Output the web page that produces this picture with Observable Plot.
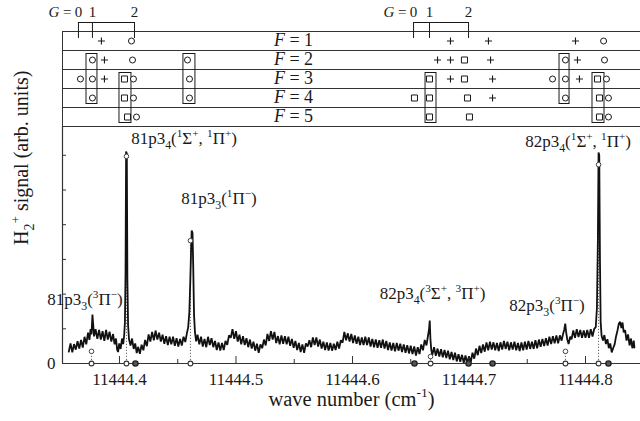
<!DOCTYPE html>
<html><head><meta charset="utf-8">
<script src="https://cdn.jsdelivr.net/npm/d3@7"></script>
<script src="https://cdn.jsdelivr.net/npm/@observablehq/plot@0.6"></script>
<style>
body{margin:0;background:#fff;}
#chart{width:640px;height:421px;position:relative;font-family:"Liberation Serif",serif;}
#chart svg{display:block;overflow:visible;}
</style></head><body><div id="chart"></div>
<script>
// ---------- data ----------
const xDomain = [11444.3511, 11444.8472];
const majorTicks = [11444.4, 11444.5, 11444.6, 11444.7, 11444.8];
const minorTicks = [11444.45, 11444.55, 11444.65, 11444.75];
const yTicks = [0, 1, 2, 3, 4, 5, 6];
const yLabeled = [0];
const yMax = 6.83;
const fRows = [1, 2, 3, 4, 5];
const fLabelWn = 11444.5494;

const gLabels = ["0", "1", "2"];
const gLeftWn = [11444.3648, 11444.3768, 11444.4129];
const gRightWn = [11444.6524, 11444.6661, 11444.6996];

const markerWn = [
  11444.3845, 11444.4103, 11444.6841, 11444.7167, 11444.7914, 11444.8155,
  11444.3768, 11444.3871, 11444.4112, 11444.4584, 11444.6730, 11444.6841, 11444.6961, 11444.7185, 11444.7828, 11444.7931, 11444.8163,
  11444.3665, 11444.3768, 11444.3871, 11444.4043, 11444.4120, 11444.4601, 11444.6661, 11444.6841, 11444.6961, 11444.7202, 11444.7717, 11444.7828, 11444.7948, 11444.8103, 11444.8180,
  11444.3768, 11444.4043, 11444.4120, 11444.4601, 11444.6532, 11444.6661, 11444.6987, 11444.7202, 11444.7828, 11444.8120, 11444.8197,
  11444.4069, 11444.4146, 11444.6661, 11444.7004, 11444.8120, 11444.8197
];
const markerF = [
  1,1,1,1,1,1,
  2,2,2,2,2,2,2,2,2,2,2,
  3,3,3,3,3,3,3,3,3,3,3,3,3,3,3,
  4,4,4,4,4,4,4,4,4,4,4,
  5,5,5,5,5,5
];
const markerType = [
  "plus","circle","plus","plus","plus","circle",
  "circle","plus","circle","circle","plus","plus","square","plus","circle","plus","circle",
  "circle","circle","plus","square","circle","circle","square","plus","square","plus","circle","circle","plus","square","circle",
  "circle","square","circle","circle","square","square","square","plus","circle","square","circle",
  "square","circle","square","square","square","circle"
];

const boxX1 = [11444.3717, 11444.4000, 11444.4549, 11444.6627, 11444.7777, 11444.8060];
const boxX2 = [11444.3811, 11444.4103, 11444.4652, 11444.6721, 11444.7863, 11444.8163];
const boxFTop = [2, 3, 2, 3, 2, 3];
const boxFBottom = [4, 5, 4, 5, 4, 5];

const calcOpenWn = [11444.3760, 11444.4060, 11444.4609, 11444.6670, 11444.7828, 11444.8112];
const calcOpenSig = [0.35, 5.97, 3.54, 0.20, 0.35, 5.73];
const calcBoldWn = [11444.4137, 11444.6532, 11444.6996, 11444.7202, 11444.8197];

const labelText = [
  "81p3_{4}(^{1}Σ^{+}, ^{1}Π^{+})",
  "81p3_{3}(^{1}Π^{−})",
  "81p3_{3}(^{3}Π^{−})",
  "82p3_{4}(^{3}Σ^{+}, ^{3}Π^{+})",
  "82p3_{3}(^{3}Π^{−})",
  "82p3_{4}(^{1}Σ^{+}, ^{1}Π^{+})"
];
const labelWn = [11444.4554, 11444.4854, 11444.3704, 11444.6687, 11444.7670, 11444.7936];
const labelSig = [6.48, 4.76, 1.84, 2.02, 1.67, 6.39];

const spectrum = [
[11444.3565,0.34],[11444.3580,0.58],[11444.3595,0.32],[11444.3610,0.56],[11444.3625,0.40],[11444.3640,0.64],
[11444.3655,0.43],[11444.3670,0.68],[11444.3685,0.46],[11444.3700,0.77],[11444.3715,0.55],[11444.3730,0.89],
[11444.3742,0.68],[11444.3752,0.99],[11444.3760,0.84],[11444.3768,1.41],[11444.3775,1.10],[11444.3782,0.78],
[11444.3795,0.99],[11444.3810,0.71],[11444.3825,0.97],[11444.3840,0.69],[11444.3855,0.93],[11444.3870,0.65],
[11444.3885,0.97],[11444.3900,0.69],[11444.3915,0.92],[11444.3930,0.63],[11444.3945,0.85],[11444.3958,0.55],
[11444.3970,0.72],[11444.3980,0.40],[11444.3988,0.33],[11444.3998,0.58],[11444.4010,0.42],[11444.4022,0.72],
[11444.4032,0.56],[11444.4040,0.80],[11444.4047,1.20],[11444.4052,2.60],[11444.4057,6.11],[11444.4063,6.05],
[11444.4068,2.40],[11444.4074,1.10],[11444.4082,0.70],[11444.4095,0.52],[11444.4108,0.72],[11444.4122,0.42],
[11444.4135,0.58],[11444.4148,0.30],[11444.4160,0.48],[11444.4175,0.28],[11444.4190,0.54],[11444.4205,0.38],
[11444.4220,0.68],[11444.4235,0.50],[11444.4250,0.84],[11444.4265,0.63],[11444.4280,0.91],[11444.4295,0.67],
[11444.4310,0.95],[11444.4325,0.69],[11444.4340,0.89],[11444.4355,0.63],[11444.4370,0.83],[11444.4385,0.57],
[11444.4400,0.79],[11444.4415,0.53],[11444.4430,0.77],[11444.4445,0.55],[11444.4460,0.77],[11444.4475,0.51],
[11444.4490,0.73],[11444.4505,0.49],[11444.4520,0.71],[11444.4535,0.52],[11444.4550,0.77],[11444.4565,0.62],
[11444.4578,0.86],[11444.4590,1.05],[11444.4600,1.50],[11444.4608,2.40],[11444.4615,3.30],[11444.4620,3.83],
[11444.4627,3.76],[11444.4633,2.80],[11444.4640,1.40],[11444.4648,0.90],[11444.4658,0.64],[11444.4670,0.83],
[11444.4685,0.55],[11444.4700,0.77],[11444.4715,0.49],[11444.4730,0.71],[11444.4745,0.47],[11444.4760,0.77],
[11444.4775,0.53],[11444.4790,0.73],[11444.4805,0.47],[11444.4820,0.65],[11444.4835,0.39],[11444.4850,0.61],
[11444.4865,0.37],[11444.4880,0.59],[11444.4895,0.39],[11444.4910,0.65],[11444.4925,0.54],[11444.4940,0.81],
[11444.4955,0.74],[11444.4970,0.99],[11444.4985,0.71],[11444.5000,0.93],[11444.5015,0.63],[11444.5030,0.83],
[11444.5045,0.55],[11444.5060,0.79],[11444.5075,0.53],[11444.5090,0.73],[11444.5105,0.47],[11444.5120,0.69],
[11444.5135,0.43],[11444.5150,0.63],[11444.5165,0.37],[11444.5180,0.57],[11444.5195,0.31],[11444.5210,0.55],
[11444.5225,0.44],[11444.5240,0.69],[11444.5255,0.52],[11444.5270,0.85],[11444.5285,0.65],[11444.5300,0.93],
[11444.5315,0.69],[11444.5330,0.91],[11444.5345,0.59],[11444.5360,0.79],[11444.5375,0.55],[11444.5390,0.81],
[11444.5405,0.57],[11444.5420,0.79],[11444.5435,0.55],[11444.5450,0.77],[11444.5465,0.51],[11444.5480,0.71],
[11444.5495,0.45],[11444.5510,0.65],[11444.5525,0.39],[11444.5540,0.59],[11444.5555,0.33],[11444.5570,0.55],
[11444.5585,0.31],[11444.5600,0.58],[11444.5615,0.49],[11444.5630,0.67],[11444.5645,0.47],[11444.5660,0.75],
[11444.5675,0.53],[11444.5690,0.75],[11444.5705,0.49],[11444.5720,0.69],[11444.5735,0.43],[11444.5750,0.63],
[11444.5765,0.39],[11444.5780,0.61],[11444.5795,0.37],[11444.5810,0.59],[11444.5825,0.37],[11444.5840,0.57],
[11444.5855,0.39],[11444.5870,0.63],[11444.5885,0.43],[11444.5900,0.67],[11444.5915,0.60],[11444.5930,0.91],
[11444.5945,0.67],[11444.5960,0.87],[11444.5975,0.63],[11444.5990,0.85],[11444.6005,0.59],[11444.6020,0.81],
[11444.6035,0.57],[11444.6050,0.77],[11444.6065,0.53],[11444.6080,0.75],[11444.6095,0.53],[11444.6110,0.77],
[11444.6125,0.53],[11444.6140,0.75],[11444.6155,0.49],[11444.6170,0.71],[11444.6185,0.47],[11444.6200,0.69],
[11444.6215,0.45],[11444.6230,0.67],[11444.6245,0.45],[11444.6260,0.69],[11444.6275,0.43],[11444.6290,0.65],
[11444.6305,0.39],[11444.6320,0.61],[11444.6335,0.37],[11444.6350,0.59],[11444.6365,0.35],[11444.6380,0.59],
[11444.6395,0.37],[11444.6410,0.57],[11444.6425,0.33],[11444.6440,0.55],[11444.6455,0.31],[11444.6470,0.53],
[11444.6485,0.29],[11444.6500,0.51],[11444.6515,0.27],[11444.6530,0.49],[11444.6545,0.23],[11444.6560,0.47],
[11444.6575,0.27],[11444.6590,0.55],[11444.6605,0.38],[11444.6620,0.68],[11444.6635,0.52],[11444.6648,0.80],
[11444.6657,0.98],[11444.6663,1.24],[11444.6669,0.70],[11444.6676,0.40],[11444.6685,0.24],[11444.6700,0.47],
[11444.6715,0.22],[11444.6730,0.43],[11444.6745,0.20],[11444.6760,0.41],[11444.6775,0.18],[11444.6790,0.39],
[11444.6805,0.16],[11444.6820,0.37],[11444.6835,0.12],[11444.6850,0.33],[11444.6865,0.10],[11444.6880,0.31],
[11444.6895,0.06],[11444.6910,0.27],[11444.6925,0.05],[11444.6940,0.25],[11444.6955,0.02],[11444.6970,0.23],
[11444.6985,0.01],[11444.7000,0.21],[11444.7015,0.03],[11444.7030,0.31],[11444.7045,0.14],[11444.7060,0.43],
[11444.7075,0.24],[11444.7090,0.51],[11444.7105,0.30],[11444.7120,0.55],[11444.7135,0.34],[11444.7150,0.61],
[11444.7165,0.38],[11444.7180,0.63],[11444.7195,0.40],[11444.7210,0.61],[11444.7225,0.38],[11444.7240,0.59],
[11444.7255,0.36],[11444.7270,0.61],[11444.7285,0.40],[11444.7300,0.65],[11444.7315,0.42],[11444.7330,0.63],
[11444.7345,0.38],[11444.7360,0.61],[11444.7375,0.40],[11444.7390,0.63],[11444.7405,0.38],[11444.7420,0.59],
[11444.7435,0.36],[11444.7450,0.61],[11444.7465,0.38],[11444.7480,0.63],[11444.7495,0.40],[11444.7510,0.65],
[11444.7525,0.42],[11444.7540,0.63],[11444.7555,0.42],[11444.7570,0.67],[11444.7585,0.44],[11444.7600,0.69],
[11444.7615,0.48],[11444.7630,0.71],[11444.7645,0.50],[11444.7660,0.73],[11444.7675,0.52],[11444.7690,0.77],
[11444.7705,0.56],[11444.7720,0.79],[11444.7735,0.58],[11444.7750,0.81],[11444.7765,0.58],[11444.7780,0.81],
[11444.7795,0.66],[11444.7808,0.86],[11444.7818,0.98],[11444.7826,1.15],[11444.7834,0.90],[11444.7843,0.70],
[11444.7855,0.56],[11444.7868,0.77],[11444.7880,0.70],[11444.7895,0.95],[11444.7910,0.74],[11444.7925,0.99],
[11444.7940,0.76],[11444.7955,0.97],[11444.7970,0.74],[11444.7985,0.95],[11444.8000,0.74],[11444.8015,0.97],
[11444.8030,0.74],[11444.8045,0.99],[11444.8060,0.78],[11444.8075,1.00],[11444.8088,1.05],[11444.8098,1.60],
[11444.8106,3.50],[11444.8112,6.08],[11444.8118,6.00],[11444.8124,3.00],[11444.8130,1.20],[11444.8138,0.80],
[11444.8150,0.66],[11444.8162,0.82],[11444.8175,0.56],[11444.8188,0.70],[11444.8200,0.44],[11444.8212,0.58],
[11444.8225,0.32],[11444.8237,0.44],[11444.8250,0.55],[11444.8262,0.78],[11444.8275,0.96],[11444.8287,1.16],
[11444.8298,1.20],[11444.8308,1.02],[11444.8318,1.18],[11444.8328,0.90],[11444.8340,0.96],[11444.8352,0.66],
[11444.8365,0.84],[11444.8378,0.52],[11444.8390,0.72],[11444.8402,0.44],[11444.8414,0.66],[11444.8420,0.46]
];

// ---------- derived tables ----------
const markers = markerWn.map((wn, i) => ({wn, F: markerF[i], type: markerType[i]}));
const boxes = boxX1.map((x1, i) => ({x1, x2: boxX2[i], fTop: boxFTop[i], fBottom: boxFBottom[i]}));
const rowEdges = [fRows[0] - 0.5, ...fRows.map(f => f + 0.5)];
const gTable = [
  ...gLeftWn.map((wn, i) => ({wn, label: gLabels[i]})),
  ...gRightWn.map((wn, i) => ({wn, label: gLabels[i]}))
];
const gSpans = [{x1: gLeftWn[0], x2: gLeftWn[2]}, {x1: gRightWn[0], x2: gRightWn[2]}];
const calcTable = calcOpenWn.map((wn, i) => ({wn, h: calcOpenSig[i]}));
const labels = labelText.map((t, i) => ({t, wn: labelWn[i], s: labelSig[i]}));

const FONT = "Liberation Serif";
const INK = "#1a1a1a";

const topPlot = Plot.plot({
  width: 640, height: 126,
  marginLeft: 62, marginRight: 0, marginTop: 31, marginBottom: 0,
  x: {domain: xDomain, axis: null},
  y: {domain: [5.5, 0.5], axis: null},
  style: {background: "white", color: INK, overflow: "visible"},
  marks: [
    Plot.ruleY(rowEdges, {stroke: "#333", strokeWidth: 1.2}),
    Plot.ruleX([xDomain[0]], {y1: rowEdges[0], y2: rowEdges[rowEdges.length - 1], stroke: "#333"}),
    Plot.rect(boxes, {x1: "x1", x2: "x2", y1: d => d.fTop - 0.5, y2: d => d.fBottom + 0.5,
      insetTop: 3.5, insetBottom: 3.5, fill: "none", stroke: INK, strokeWidth: 1}),
    Plot.dot(markers.filter(d => d.type === "circle"), {x: "wn", y: "F", r: 3, stroke: INK, fill: "white", strokeWidth: 1}),
    Plot.dot(markers.filter(d => d.type === "square"), {x: "wn", y: "F", symbol: "square", r: 3.4, stroke: INK, fill: "white", strokeWidth: 1}),
    Plot.dot(markers.filter(d => d.type === "plus"), {x: "wn", y: "F", symbol: "plus", r: 2.4, stroke: INK, strokeWidth: 1.1}),
    Plot.text(fRows, {x: () => fLabelWn, y: d => d, text: d => `~{F} = ${d}`, fontSize: 18, lineHeight: 0.9, fill: INK}),
    Plot.ruleX(gTable, {x: "wn", y1: rowEdges[0], y2: fRows[0], insetTop: -9, insetBottom: 2.5, stroke: INK}),
    Plot.ruleY(gSpans, {x1: "x1", x2: "x2", y: rowEdges[0], dy: -9, stroke: INK}),
    Plot.text(gTable, {x: "wn", y: rowEdges[0], text: "label", dy: -19, fontSize: 15, fill: INK}),
    Plot.text(gSpans, {x: "x1", y: rowEdges[0], text: () => "~{G} =", textAnchor: "end", dx: -7, dy: -19, fontSize: 15, fill: INK})
  ]
});

const bottomPlot = Plot.plot({
  width: 640, height: 295,
  marginLeft: 62, marginRight: 0, marginTop: 0, marginBottom: 58,
  x: {domain: xDomain},
  y: {domain: [0, yMax]},
  style: {background: "white", color: INK, overflow: "visible"},
  marks: [
    Plot.ruleX(calcTable, {x: "wn", y1: 0, y2: "h", stroke: "#666", strokeDasharray: "1.2,1.8", strokeWidth: 1}),
    Plot.line(spectrum, {x: d => d[0], y: d => d[1], stroke: "#111", strokeWidth: 1.8, strokeLinejoin: "miter"}),
    Plot.ruleY([0], {stroke: "#333", strokeWidth: 1.2}),
    Plot.ruleX([xDomain[0]], {y1: 0, y2: yMax, stroke: "#333", strokeWidth: 1.2}),
    Plot.ruleX(majorTicks, {y1: 0, y2: 0, insetTop: -7, stroke: "#333"}),
    Plot.ruleX(minorTicks, {y1: 0, y2: 0, insetTop: -4, stroke: "#333"}),
    Plot.ruleY(yTicks, {x1: xDomain[0], x2: xDomain[0], insetRight: -4, stroke: "#333"}),
    Plot.axisX(majorTicks, {tickSize: 0, tickPadding: 9, tickFormat: d => d.toFixed(1), fontSize: 17, label: null, fill: INK}),
    Plot.axisY(yLabeled, {tickSize: 0, tickPadding: 7, fontSize: 17, label: null, fill: INK}),
    Plot.dot(calcTable, {x: "wn", y: "h", r: 2.3, stroke: "#444", fill: "white", strokeWidth: 1}),
    Plot.dot(calcOpenWn, {x: d => d, y: () => 0, r: 2.4, stroke: "#333", fill: "white", strokeWidth: 1.1}),
    Plot.dot(calcBoldWn, {x: d => d, y: () => 0, r: 2.6, stroke: "#222", fill: "#555", strokeWidth: 1.4}),
    Plot.text(labels, {x: "wn", y: "s", text: "t", fontSize: 17, fill: INK}),
    Plot.text(["wave number (cm^{-1})"], {text: d => d, frameAnchor: "bottom", dy: 42, fontSize: 20.5, fill: INK}),
    Plot.text(["H_{2}^{+} signal (arb. units)"], {text: d => d, frameAnchor: "left", rotate: -90, dx: -41, fontSize: 20, fill: INK})
  ]
});

const root = document.getElementById("chart");
root.appendChild(topPlot);
root.appendChild(bottomPlot);

function richText(svg) {
  d3.select(svg).attr("font-family", FONT).style("font-family", "'Liberation Serif', serif", "important");
  d3.select(svg).selectAll("g").each(function() {
    if (this.getAttribute("font-family")) this.setAttribute("font-family", FONT);
  });
  d3.select(svg).selectAll("text").each(function() {
    const el = this;
    el.setAttribute("font-family", FONT);
    el.style.setProperty("font-family", "'Liberation Serif', serif", "important");
    const s = el.textContent;
    if (!/[_^~]\{/.test(s)) return;
    const fs = parseFloat(getComputedStyle(el).fontSize) || 16;
    el.textContent = "";
    const re = /([_^~])\{([^}]*)\}|([^_^~]+)/g;
    let m, cur = 0;
    while ((m = re.exec(s))) {
      const t = d3.select(el).append("tspan");
      let target = 0;
      if (m[3] !== undefined) {
        t.text(m[3]);
      } else if (m[1] === "~") {
        t.text(m[2]).attr("font-style", "italic");
      } else if (m[1] === "^") {
        t.text(m[2]).attr("font-size", (fs * 0.66).toFixed(1));
        target = -fs * 0.42;
      } else {
        t.text(m[2]).attr("font-size", (fs * 0.7).toFixed(1));
        target = fs * 0.28;
      }
      if (target !== cur) { t.attr("dy", (target - cur).toFixed(2)); cur = target; }
    }
  });
}
richText(topPlot);
richText(bottomPlot);
</script></body></html>
